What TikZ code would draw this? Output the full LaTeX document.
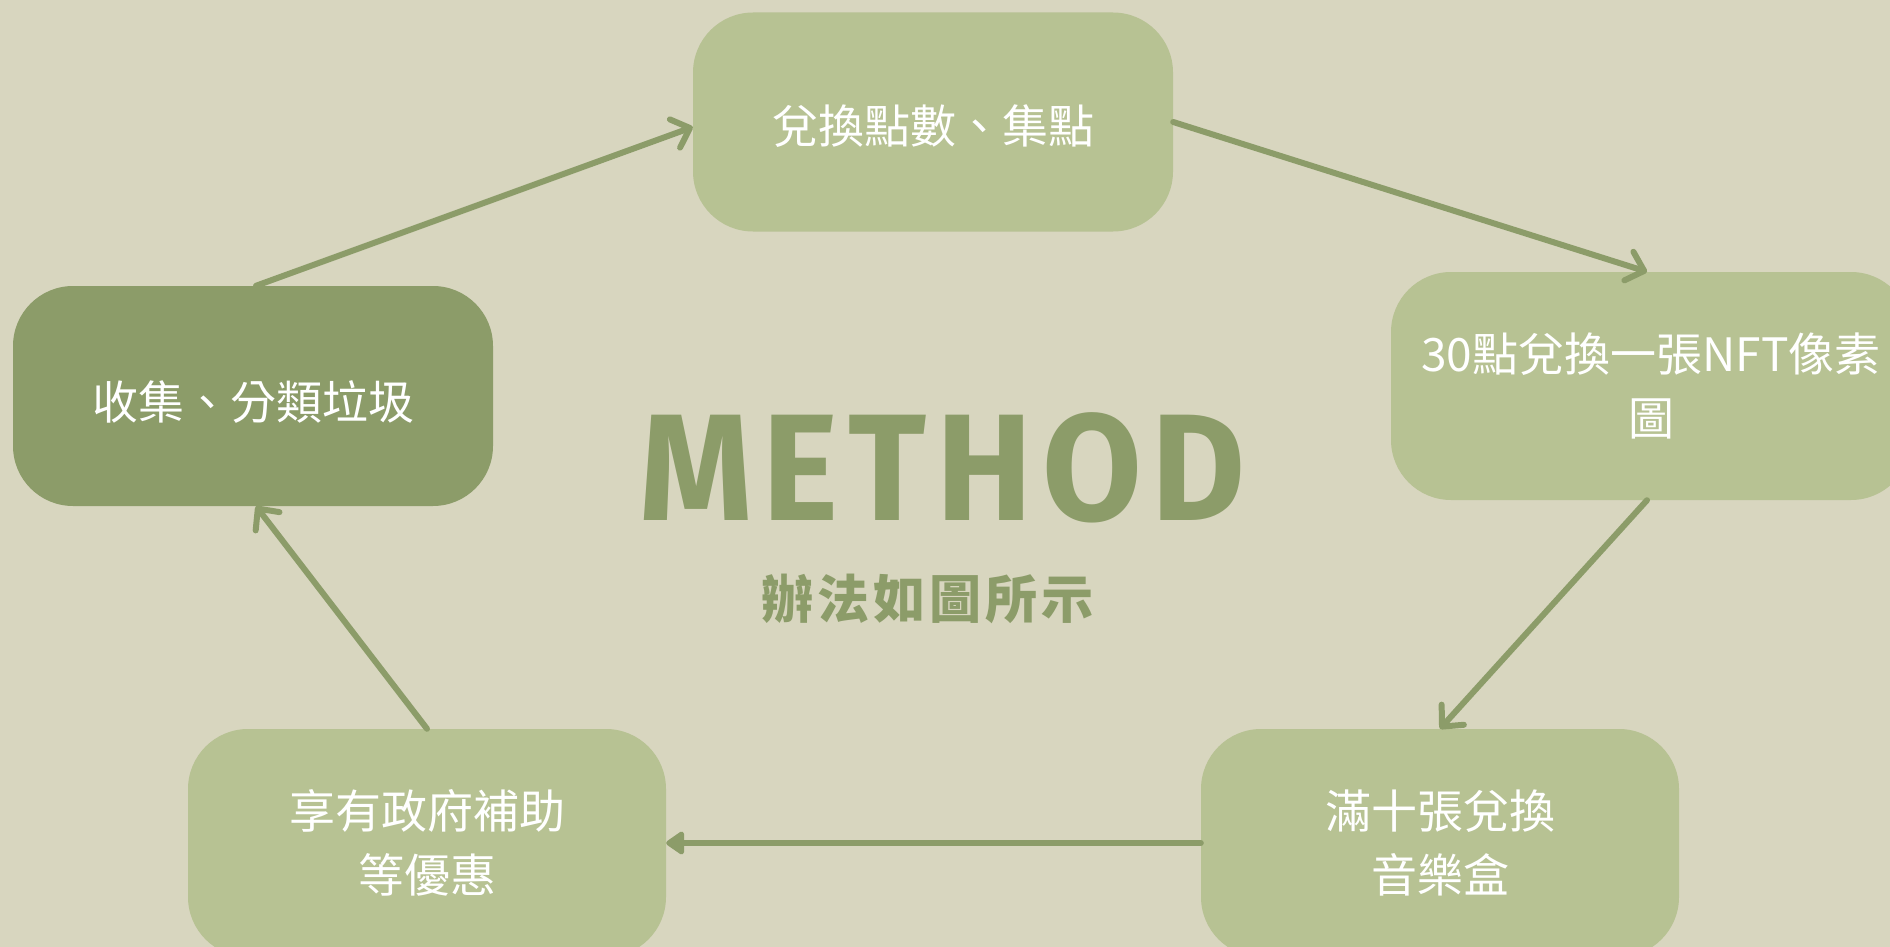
\documentclass[tikz,border=0pt]{standalone}
\usepackage{fontspec}
\setmainfont{Noto Sans CJK TC}
\newfontfamily\methodfont{Fira Sans}[FakeStretch=0.95,LetterSpace=6.5]
\newfontfamily\subfont{Noto Sans CJK TC}[LetterSpace=8]
\usetikzlibrary{arrows.meta}
\definecolor{bgc}{RGB}{216,214,191}
\definecolor{lightbox}{RGB}{183,194,147}
\definecolor{darkbox}{RGB}{140,156,105}
\definecolor{arrowc}{RGB}{140,156,105}
\tikzset{
  stepbox/.style={fill=lightbox, draw=none, rounded corners=60pt, text=white,
    align=center, inner sep=0pt, font=\fontsize{46}{64}\selectfont},
  darkstep/.style={stepbox, fill=darkbox},
  flow/.style={draw=arrowc, line width=6pt, line cap=round,
    -{Straight Barb[length=16pt,width=30pt,round]}},
  flowtri/.style={draw=arrowc, line width=6pt, line cap=round,
    -{Triangle[length=20pt,width=26pt,round]}}
}
\begin{document}
\begin{tikzpicture}[x=1pt,y=-1pt]
\fill[bgc] (0,0) rectangle (1890,947);
\useasboundingbox (0,0) rectangle (1890,947);
\clip (0,0) rectangle (1890,947);
\node[stepbox, minimum width=480pt, minimum height=219pt] (top) at (933,122) {\raisebox{-4pt}[\height][\depth]{兌換點數、集點}};
\node[stepbox, minimum width=520pt, minimum height=228pt] (right) at (1651,386) {30點兌換一張NFT像素\\圖};
\node[stepbox, minimum width=478pt, minimum height=228pt] (br) at (1440,843) {滿十張兌換\\音樂盒};
\node[stepbox, minimum width=478pt, minimum height=228pt] (bl) at (427,843) {享有政府補助\\等優惠};
\node[darkstep, minimum width=480pt, minimum height=220pt] (left) at (253,396) {\raisebox{-6pt}[\height][\depth]{收集、分類垃圾}};
\node[anchor=base west, inner sep=0pt, text=darkbox, font=\methodfont\bfseries\fontsize{152}{160}\selectfont] (title) at (639,520) {METHOD};
\node[anchor=base west, inner sep=0pt, text=darkbox, font=\subfont\bfseries\fontsize{52}{60}\selectfont] (sub) at (761,618) {辦法如圖所示};
\draw[flow] ([xshift=3pt]left.north) -- ([yshift=-5pt]top.west);
\draw[flow] (top.east) -- ([xshift=-4pt]right.north);
\draw[flow] ([xshift=-4pt]right.south) -- (br.north);
\draw[flowtri] (br.west) -- (bl.east);
\draw[flow] (bl.north) -- ([xshift=3pt]left.south);
\end{tikzpicture}
\end{document}
